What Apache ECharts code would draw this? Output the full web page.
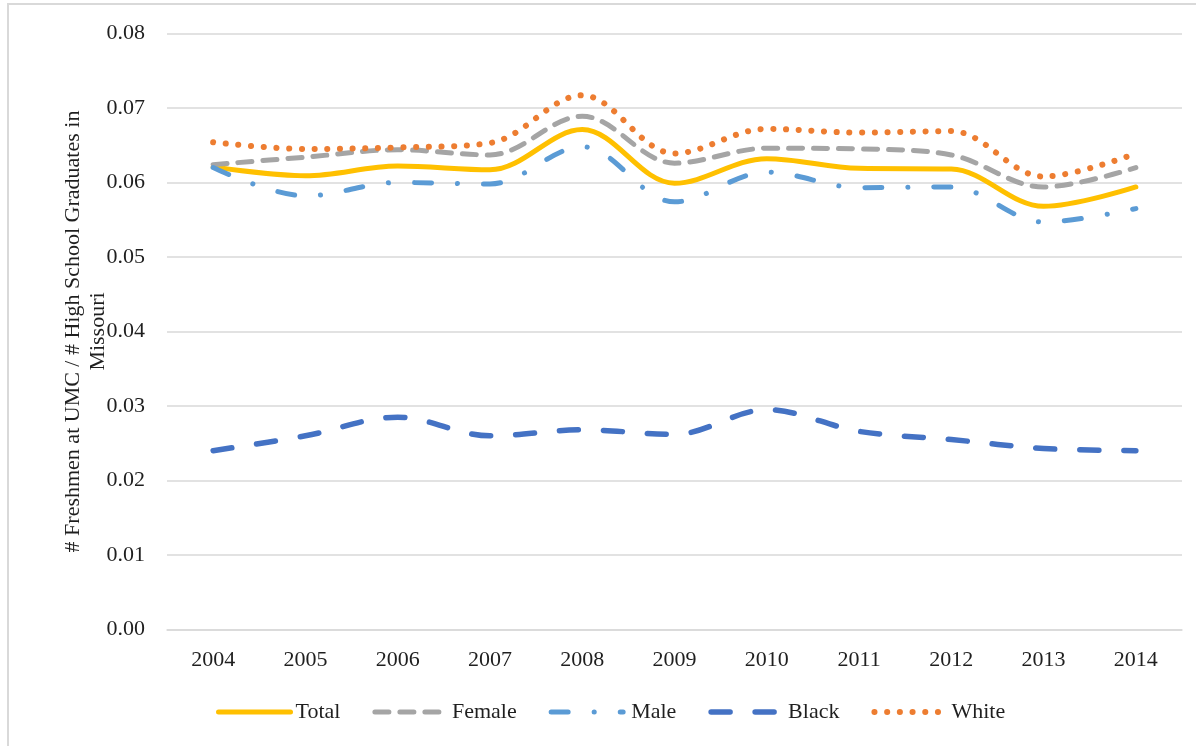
<!DOCTYPE html>
<html>
<head>
<meta charset="utf-8">
<title>UMC freshmen share of Missouri high school graduates</title>
<script src="https://cdn.jsdelivr.net/npm/echarts@6/dist/echarts.min.js"></script>
<style>
  html, body { margin: 0; padding: 0; background: #ffffff; }
  #chart { width: 1196px; height: 746px; }
</style>
</head>
<body>
<div id="chart"></div>
<script>
// Enrollment ratio: freshmen at UMC divided by high school graduates in Missouri
const years = ['2004', '2005', '2006', '2007', '2008', '2009', '2010', '2011', '2012', '2013', '2014'];
const totalRatio  = [0.0621, 0.0609, 0.0622, 0.0617, 0.0671, 0.0599, 0.0632, 0.0619, 0.0618, 0.0568, 0.0594];
const femaleRatio = [0.0624, 0.0634, 0.0644, 0.0637, 0.0689, 0.0626, 0.0646, 0.0645, 0.0637, 0.0594, 0.0620];
const maleRatio   = [0.0620, 0.0582, 0.0600, 0.0598, 0.0648, 0.0574, 0.0614, 0.0593, 0.0594, 0.0547, 0.0565];
const blackRatio  = [0.0240, 0.0260, 0.0285, 0.0260, 0.0268, 0.0262, 0.0295, 0.0266, 0.0255, 0.0243, 0.0240];
const whiteRatio  = [0.0654, 0.0645, 0.0647, 0.0653, 0.0717, 0.0639, 0.0672, 0.0667, 0.0669, 0.0608, 0.0639];
const yTicks = ['0.00', '0.01', '0.02', '0.03', '0.04', '0.05', '0.06', '0.07', '0.08'];

const FONT = '"Liberation Serif", "Times New Roman", serif';
const TEXT = '#1f1f1f';

// Stroke styles per group: colour, width and dash pattern (round caps everywhere)
const styles = {
  Total:  { color: '#FFC000', width: 5,   type: 'solid' },
  Female: { color: '#A5A5A5', width: 5,   type: [14, 11] },
  Male:   { color: '#5B9BD5', width: 5,   type: [17, 26, 0.1, 26] },
  Black:  { color: '#4472C4', width: 5.5, type: [19, 25] },
  White:  { color: '#ED7D31', width: 6,   type: [0.1, 12.6] }
};

function strokeOf(name) {
  const s = styles[name];
  return { color: s.color, width: s.width, type: s.type, cap: 'round', join: 'round' };
}

function lineSeries(name, data) {
  return {
    name: name,
    type: 'line',
    data: data,
    smooth: 0.35,
    symbol: 'none',
    lineStyle: strokeOf(name),
    itemStyle: { color: styles[name].color }
  };
}

const legendNames = ['Total', 'Female', 'Male', 'Black', 'White'];

const chart = echarts.init(document.getElementById('chart'), null, { renderer: 'canvas' });

chart.setOption({
  animation: false,
  backgroundColor: '#ffffff',
  textStyle: { fontFamily: FONT },
  graphic: [{
    type: 'polyline',
    shape: { points: [[8, 760], [8, 4], [1200, 4]] },
    style: { stroke: '#d9d9d9', lineWidth: 2, fill: null }
  }],
  grid: { left: 167, right: 14, top: 33.5, bottom: 116.5 },
  legend: {
    left: 211,
    top: 696,
    itemWidth: 72,
    itemHeight: 14,
    itemGap: 32,
    itemStyle: { opacity: 0 },
    textStyle: {
      fontFamily: FONT, fontSize: 22, color: TEXT,
      rich: { pad: { fontFamily: FONT, fontSize: 22, color: TEXT, padding: [0, 0, 0, 3] } }
    },
    formatter: function (name) { return name === 'Male' ? '{pad|Male}' : name; },
    data: legendNames.map(function (n) {
      return { name: n, lineStyle: strokeOf(n), itemStyle: { opacity: 0 } };
    })
  },
  xAxis: {
    type: 'category',
    data: years,
    boundaryGap: true,
    axisLine: { show: true, lineStyle: { color: '#d9d9d9', width: 1.5 } },
    axisTick: { show: false },
    axisLabel: { fontFamily: FONT, fontSize: 22, color: TEXT, margin: 20 }
  },
  yAxis: {
    type: 'value',
    min: 0,
    max: 0.08,
    interval: 0.01,
    name: '# Freshmen at UMC / # High School Graduates in\nMissouri',
    nameLocation: 'middle',
    nameRotate: 90,
    nameGap: 56,
    nameMoveOverlap: false,
    nameTextStyle: { fontFamily: FONT, fontSize: 22, color: TEXT, lineHeight: 25 },
    axisLine: { show: false },
    axisTick: { show: false },
    splitLine: { lineStyle: { color: '#d9d9d9', width: 1.5 } },
    axisLabel: {
      fontFamily: FONT, fontSize: 22, color: TEXT, margin: 22,
      formatter: function (v) { return yTicks[Math.round(v * 100)]; }
    }
  },
  series: [
    lineSeries('Total', totalRatio),
    lineSeries('Female', femaleRatio),
    lineSeries('Male', maleRatio),
    lineSeries('Black', blackRatio),
    lineSeries('White', whiteRatio)
  ]
});
</script>
</body>
</html>
